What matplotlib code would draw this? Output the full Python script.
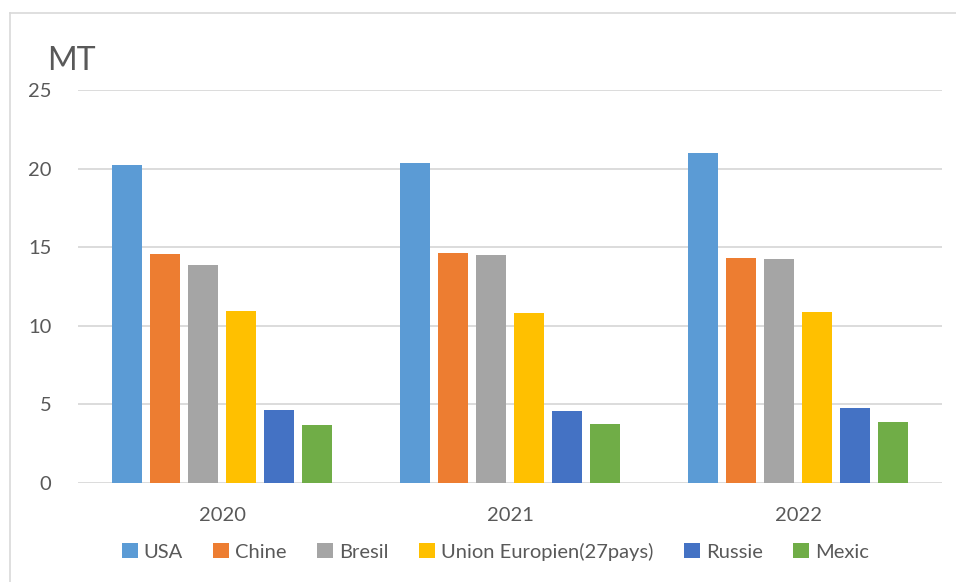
import numpy as np
import matplotlib.pyplot as plt
from matplotlib.patches import Patch
from matplotlib.lines import Line2D

plt.rcParams['font.family'] = ['Lato', 'DejaVu Sans']

years = ["2020", "2021", "2022"]
countries = ["USA", "Chine", "Bresil", "Union Europien(27pays)", "Russie", "Mexic"]
colors = ["#5b9bd5", "#ed7d31", "#a5a5a5", "#ffc000", "#4472c4", "#70ad47"]

usa = [20.25, 20.38, 20.99]
chine = [14.60, 14.66, 14.32]
bresil = [13.85, 14.49, 14.24]
ue = [10.97, 10.83, 10.91]
russie = [4.68, 4.60, 4.75]
mexic = [3.71, 3.79, 3.90]
series = [usa, chine, bresil, ue, russie, mexic]

fig = plt.figure(figsize=(9.56, 5.82), dpi=100)
ax = fig.add_axes([0.0816, 0.170, 0.904, 0.675])

x = np.arange(len(years))
width = 0.104
step = 0.132
for i, (vals, name, col) in enumerate(zip(series, countries, colors)):
    offset = (i - 2.5) * step
    ax.bar(x + offset, vals, width, color=col, label=name, zorder=3)

ax.set_xlim(-0.5, 2.5)
ax.set_ylim(0, 25)
ax.set_yticks(range(0, 26, 5))
ax.set_xticks(x)
ax.set_xticklabels(years)
ax.grid(axis='y', color='#d9d9d9', linewidth=1.3, zorder=0)
for s in ax.spines.values():
    s.set_visible(False)
ax.tick_params(axis='both', length=0, labelsize=14.5, labelcolor='#595959')
ax.tick_params(axis='y', pad=19)
ax.tick_params(axis='x', pad=17)

fig.text(0.049, 0.869, "MT", fontsize=23, color='#595959', va='bottom')

handles = [Patch(facecolor=c, label=n) for n, c in zip(countries, colors)]
fig.legend(handles=handles, loc='center', bbox_to_anchor=(0.518, 0.052), ncol=6,
           frameon=False, fontsize=14.5, labelcolor='#595959',
           handlelength=0.8, handleheight=0.8, handletextpad=0.3, columnspacing=1.5)

# light frame around the chart area
fig.add_artist(Line2D([10 / 956, 10 / 956], [0, 1 - 13 / 582], color='#d9d9d9', lw=1.2))
fig.add_artist(Line2D([10 / 956, 1], [1 - 13 / 582, 1 - 13 / 582], color='#d9d9d9', lw=1.2))

fig.savefig("out.png", dpi=100)
